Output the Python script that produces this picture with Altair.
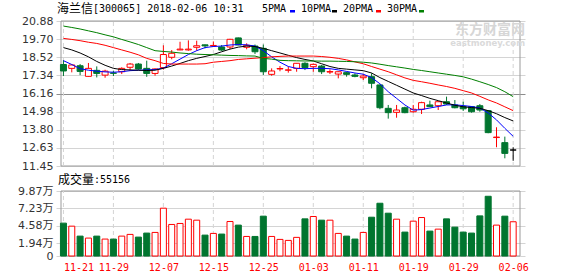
import altair as alt
import pandas as pd

# ---------------- data ----------------
dates = [
    "2017-11-21", "2017-11-22", "2017-11-23", "2017-11-24", "2017-11-27", "2017-11-28", "2017-11-29", "2017-11-30",
    "2017-12-01", "2017-12-04", "2017-12-05", "2017-12-06", "2017-12-07", "2017-12-08", "2017-12-11", "2017-12-12",
    "2017-12-13", "2017-12-14", "2017-12-15", "2017-12-18", "2017-12-19", "2017-12-20", "2017-12-21", "2017-12-22",
    "2017-12-25", "2017-12-26", "2017-12-27", "2017-12-28", "2017-12-29", "2018-01-02", "2018-01-03", "2018-01-04",
    "2018-01-05", "2018-01-08", "2018-01-09", "2018-01-10", "2018-01-11", "2018-01-12", "2018-01-15", "2018-01-16",
    "2018-01-17", "2018-01-18", "2018-01-19", "2018-01-22", "2018-01-23", "2018-01-24", "2018-01-25", "2018-01-26",
    "2018-01-29", "2018-01-30", "2018-01-31", "2018-02-01", "2018-02-02", "2018-02-05", "2018-02-06",
]
open_prices = [18.05, 17.80, 17.97, 17.28, 17.67, 17.36, 17.50, 17.58, 17.87, 18.08,
               17.80, 17.47, 17.85, 18.52, 19.00, 19.00, 19.17, 19.33, 19.26, 19.19,
               19.19, 19.78, 19.17, 19.25, 19.10, 17.41, 17.76, 17.68, 17.80, 18.13,
               17.91, 17.95, 17.56, 17.43, 17.52, 17.37, 17.19, 17.26, 16.72, 15.20,
               14.94, 15.24, 14.98, 15.14, 15.42, 15.37, 15.63, 15.42, 15.31, 15.31,
               15.37, 15.05, 13.30, 12.97, 12.49]
close_prices = [17.63, 18.02, 17.60, 17.80, 17.47, 17.62, 17.48, 17.80, 18.08, 17.76,
                17.47, 17.76, 18.70, 18.78, 19.05, 19.05, 19.27, 19.26, 19.29, 18.99,
                19.69, 19.32, 19.30, 18.88, 17.58, 17.63, 17.79, 17.70, 18.13, 17.85,
                18.06, 17.58, 17.59, 17.58, 17.41, 17.28, 17.30, 16.83, 15.24, 14.92,
                15.09, 14.92, 15.14, 15.57, 15.31, 15.63, 15.48, 15.24, 15.17, 14.98,
                15.09, 13.62, 13.33, 12.27, 12.49]
high_prices = [18.33, 18.06, 18.08, 18.15, 17.93, 17.71, 17.65, 17.87, 18.15, 18.15,
               18.30, 17.80, 19.30, 18.99, 19.53, 19.62, 19.60, 19.35, 19.55, 19.32,
               19.72, 19.80, 19.43, 19.35, 19.35, 17.80, 17.95, 17.91, 18.15, 18.20,
               18.12, 18.02, 17.74, 17.60, 17.58, 17.48, 17.43, 17.48, 16.75, 15.42,
               15.42, 15.31, 15.42, 15.63, 15.70, 15.65, 15.96, 15.74, 15.63, 15.33,
               15.48, 15.07, 13.97, 13.36, 12.67]
low_prices = [17.30, 17.54, 17.36, 17.26, 17.21, 17.19, 17.30, 17.43, 17.65, 17.71,
              17.25, 17.32, 17.72, 18.39, 18.98, 18.95, 18.95, 19.10, 19.20, 18.93,
              19.05, 19.30, 19.04, 18.73, 17.37, 17.32, 17.61, 17.52, 17.58, 17.69,
              17.58, 17.43, 17.43, 17.15, 17.26, 17.22, 17.04, 16.50, 15.14, 14.53,
              14.59, 14.88, 14.92, 14.83, 15.29, 15.09, 15.42, 15.20, 15.03, 14.92,
              14.98, 13.58, 12.67, 11.95, 11.79]
volume_wan = [4.99, 4.53, 3.02, 2.72, 3.02, 2.57, 2.57, 3.02, 3.28, 2.87,
              3.48, 3.58, 7.26, 4.79, 4.94, 5.59, 5.44, 3.17, 3.43, 3.33,
              5.24, 4.69, 2.97, 2.97, 6.05, 2.97, 2.52, 2.37, 2.83, 5.64,
              6.00, 5.44, 5.44, 3.43, 3.02, 2.57, 3.58, 5.89, 8.01, 6.50,
              5.59, 3.63, 5.29, 5.84, 3.78, 4.08, 5.64, 4.38, 3.63, 3.48,
              6.09, 9.07, 4.69, 6.05, 5.20]
ma5 = [18.30, 18.05, 17.78, 17.68, 17.62, 17.57, 17.55, 17.58, 17.65, 17.68,
       17.70, 17.72, 17.82, 18.10, 18.40, 18.70, 18.95, 19.15, 19.22, 19.25,
       19.32, 19.35, 19.33, 19.25, 18.95, 18.55, 18.20, 17.92, 17.80, 17.78,
       17.80, 17.80, 17.78, 17.70, 17.60, 17.50, 17.42, 17.20, 16.80, 16.28,
       15.85, 15.42, 15.08, 15.12, 15.22, 15.32, 15.42, 15.43, 15.38, 15.32,
       15.22, 14.90, 14.45, 13.90, 13.38]
ma10 = [19.15, 19.00, 18.80, 18.55, 18.25, 18.00, 17.80, 17.72, 17.70, 17.68,
        17.66, 17.68, 17.80, 17.95, 18.12, 18.30, 18.45, 18.57, 18.70, 18.88,
        19.05, 19.18, 19.25, 19.22, 19.10, 18.95, 18.80, 18.65, 18.50, 18.38,
        18.28, 18.10, 17.92, 17.80, 17.75, 17.70, 17.65, 17.50, 17.20, 16.95,
        16.70, 16.45, 16.20, 16.03, 15.85, 15.70, 15.55, 15.40, 15.30, 15.25,
        15.20, 15.05, 14.85, 14.60, 14.38]
ma20 = [19.75, 19.68, 19.60, 19.50, 19.42, 19.30, 19.15, 19.00, 18.85, 18.68,
        18.45, 18.30, 18.12, 18.08, 18.08, 18.08, 18.08, 18.10, 18.20, 18.25,
        18.30, 18.38, 18.42, 18.46, 18.50, 18.55, 18.58, 18.60, 18.60, 18.60,
        18.60, 18.57, 18.52, 18.45, 18.35, 18.22, 18.10, 17.92, 17.75, 17.58,
        17.38, 17.18, 17.02, 16.93, 16.83, 16.72, 16.62, 16.50, 16.35, 16.20,
        15.98, 15.75, 15.55, 15.30, 15.05]
ma30 = [20.55, 20.46, 20.36, 20.24, 20.12, 19.98, 19.85, 19.68, 19.52, 19.35,
        19.15, 18.95, 18.90, 18.86, 18.80, 18.76, 18.72, 18.70, 18.68, 18.66,
        18.64, 18.63, 18.61, 18.60, 18.45, 18.40, 18.32, 18.30, 18.29, 18.28,
        18.28, 18.27, 18.27, 18.26, 18.25, 18.23, 18.20, 18.15, 18.07, 17.98,
        17.90, 17.82, 17.73, 17.66, 17.58, 17.50, 17.42, 17.34, 17.25, 17.10,
        16.93, 16.75, 16.55, 16.28, 15.96]

ma_names = ["5PMA", "10PMA", "20PMA", "30PMA"]
tick_index = [0, 6, 12, 18, 24, 30, 36, 42, 48, 54]
tick_labels = ["11-21", "11-29", "12-07", "12-15", "12-25", "01-03", "01-11", "01-19", "01-29", "02-06"]
price_ticks = [11.45, 12.63, 13.80, 14.98, 16.16, 17.34, 18.52, 19.70, 20.88]
volume_ticks = [0, 1.94, 4.58, 7.23, 9.87]
stock_title = "海兰信"
stock_info = "[300065] 2018-02-06 10:31"
volume_title = "成交量"
volume_value = ":55156"

# ---------------- styles ----------------
RED = "#ff0000"
GREEN = "#00752f"
MA_COLORS = ["#0000ff", "#000000", "#ff0000", "#008000"]
FRAME = "#9a9a9a"
GRID = "#d4d4d4"
CJK = "Noto Sans CJK SC"
MONO = "DejaVu Sans Mono"

n = len(dates)
df = pd.DataFrame({
    "i": list(range(n)), "date": dates, "open": open_prices, "close": close_prices,
    "high": high_prices, "low": low_prices, "volume": volume_wan,
})
df["dir"] = ["up" if c > o else ("down" if c < o else "flat") for o, c in zip(open_prices, close_prices)]
df["vdir"] = ["down" if d == "down" else "up" for d in df["dir"]]

ma_df = pd.concat([
    pd.DataFrame({"i": list(range(n)), "ma": name, "value": vals})
    for name, vals in zip(ma_names, [ma5, ma10, ma20, ma30])
])

x_domain = [-0.294, 54.82]
price_domain = [price_ticks[0], price_ticks[-1]]
vol_domain = [volume_ticks[0], volume_ticks[-1]]

xs = alt.Scale(domain=x_domain, nice=False, zero=False)
price_scale = alt.Scale(domain=price_domain, range=[145, 0], nice=False, zero=False)
vol_scale = alt.Scale(domain=vol_domain, range=[235, 170], nice=False, zero=False)

label_list = "[" + ",".join("'%s'" % t for t in tick_labels) + "]"
index_list = "[" + ",".join(str(t) for t in tick_index) + "]"
x_axis = alt.Axis(
    values=tick_index, title=None, domain=False, ticks=False, tickSize=0, grid=False,
    labelExpr=label_list + "[indexof(" + index_list + ", datum.value)]",
    labelColor=RED, labelFont=MONO, labelFontSize=10, labelPadding=6,
    labelFlush=False, labelOverlap=False, labelBound=False,
    labelAlign={"condition": {"test": "datum.value == 0", "value": "left"}, "value": "center"},
)
price_axis = alt.Axis(
    values=price_ticks, title=None, orient="left", domain=False, ticks=False, tickSize=0,
    grid=True, gridWidth=1,
    gridColor={"condition": {"test": "datum.value == 16.16", "value": "#8c8c8c"}, "value": GRID},
    format=".2f", labelFont="DejaVu Sans", labelFontSize=11, labelColor="#333333",
    labelPadding=3, labelOverlap=False, labelFlush=False,
)
vol_axis = alt.Axis(
    values=volume_ticks, title=None, orient="left", domain=False, ticks=False, tickSize=0,
    grid=True, gridColor=GRID, gridWidth=1,
    labelExpr="datum.value == 0 ? '0' : format(datum.value, '.2f') + '万'",
    labelFont="DejaVu Sans, " + CJK, labelFontSize=11, labelColor="#333333",
    labelPadding=3, labelOverlap=False, labelFlush=False,
)

fill_scale = alt.Scale(domain=["up", "down", "flat"], range=["#ffffff", GREEN, "#000000"])
stroke_scale = alt.Scale(domain=["up", "down", "flat"], range=[RED, GREEN, "#000000"])

frame_df = pd.DataFrame({"x1": [x_domain[0]], "x2": [x_domain[1]],
                         "p1": [price_domain[0]], "p2": [price_domain[1]],
                         "v1": [vol_domain[0]], "v2": [vol_domain[1]]})
vgrid_df = pd.DataFrame({"i": tick_index, "p1": price_domain[0], "p2": price_domain[1],
                         "v1": vol_domain[0], "v2": vol_domain[1]})

X = alt.X("i:Q", scale=xs, axis=x_axis)

# ---------------- price panel ----------------
p_frame = alt.Chart(frame_df).mark_rect(fillOpacity=0, stroke=FRAME, strokeWidth=1).encode(
    x=alt.X("x1:Q", scale=xs, axis=x_axis), x2="x2:Q",
    y=alt.Y("p1:Q", scale=price_scale, axis=price_axis), y2="p2:Q")
p_vgrid = alt.Chart(vgrid_df).mark_rule(stroke=GRID, strokeWidth=1, strokeDash=[4, 3]).encode(
    x=X, y=alt.Y("p1:Q", scale=price_scale, axis=price_axis), y2="p2:Q")
wicks = alt.Chart(df).mark_rule(strokeWidth=1).encode(
    x=X, y=alt.Y("low:Q", scale=price_scale, axis=price_axis), y2="high:Q",
    stroke=alt.Stroke("dir:N", scale=stroke_scale, legend=None))
bodies = alt.Chart(df).mark_bar(size=6, strokeWidth=1).encode(
    x=X, y=alt.Y("open:Q", scale=price_scale, axis=price_axis), y2="close:Q",
    fill=alt.Fill("dir:N", scale=fill_scale, legend=None),
    stroke=alt.Stroke("dir:N", scale=stroke_scale, legend=None))
ma_lines = alt.Chart(ma_df).mark_line(strokeWidth=1).encode(
    x=X, y=alt.Y("value:Q", scale=price_scale, axis=price_axis),
    color=alt.Color("ma:N", scale=alt.Scale(domain=ma_names, range=MA_COLORS), legend=None),
    detail="ma:N")
price_layer = alt.layer(p_frame, p_vgrid, wicks, bodies, ma_lines)

# ---------------- volume panel ----------------
v_frame = alt.Chart(frame_df).mark_rect(fillOpacity=0, stroke=FRAME, strokeWidth=1).encode(
    x=alt.X("x1:Q", scale=xs, axis=x_axis), x2="x2:Q",
    y=alt.Y("v1:Q", scale=vol_scale, axis=vol_axis), y2="v2:Q")
v_vgrid = alt.Chart(vgrid_df).mark_rule(stroke=GRID, strokeWidth=1, strokeDash=[4, 3]).encode(
    x=X, y=alt.Y("v1:Q", scale=vol_scale, axis=vol_axis), y2="v2:Q")
v_bars = alt.Chart(df).mark_bar(size=6, strokeWidth=1).encode(
    x=X, y=alt.Y("volume:Q", scale=vol_scale, axis=vol_axis), y2=alt.Y2(datum=0),
    fill=alt.Fill("vdir:N", scale=fill_scale, legend=None),
    stroke=alt.Stroke("vdir:N", scale=stroke_scale, legend=None))
vol_layer = alt.layer(v_frame, v_vgrid, v_bars)


# ---------------- header texts ----------------
def label(text, x, y, font, size, color="#000000", align="left", weight="normal"):
    return alt.Chart(pd.DataFrame({"t": [text]})).mark_text(
        align=align, baseline="middle", font=font, fontSize=size, color=color, fontWeight=weight
    ).encode(text="t:N", x=alt.value(x), y=alt.value(y))


def swatch(x, color):
    return alt.Chart(pd.DataFrame({"t": [0]})).mark_rect(color=color).encode(
        x=alt.value(x), x2=alt.value(x + 5), y=alt.value(-11), y2=alt.value(-8.5))


texts = [
    label(stock_title, 1, -12, CJK, 12),
    label(stock_info, 37, -12, MONO, 10),
    label("东方财富网", 469, 9, CJK, 14, "#d6d6d6", "right", "bold"),
    label("eastmoney.com", 469, 21.5, "DejaVu Sans", 8.5, "#dadada", "right", "bold"),
    label(volume_title, 2, 159, CJK, 12),
    label(volume_value, 38, 159, MONO, 10),
]
legend_x = [206, 245, 287, 331]
swatch_x = [234, 276, 320, 363]
for name, lx, sx, col in zip(ma_names, legend_x, swatch_x, MA_COLORS):
    texts.append(label(name, lx, -12, MONO, 10))
    texts.append(swatch(sx, col))

chart = alt.layer(price_layer, vol_layer, *texts).resolve_scale(y="independent").properties(
    width=469, height=235,
    autosize=alt.AutoSizeParams(type="none"),
    padding={"left": 56, "top": 21, "right": 53, "bottom": 20},
    background="white",
).configure_view(stroke=None)

chart.save("out.html", embed_options={"renderer": "svg", "actions": False})
